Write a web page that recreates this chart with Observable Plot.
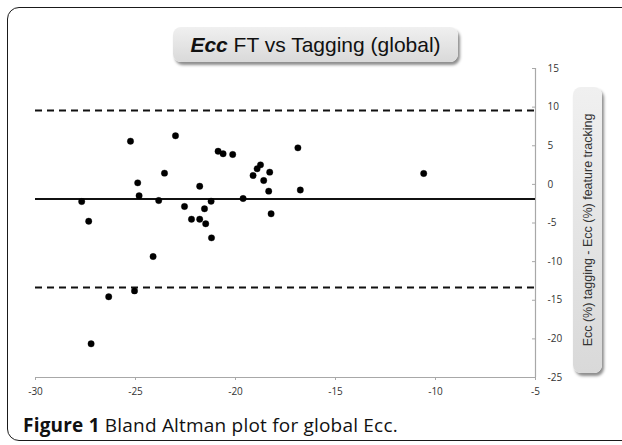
<!DOCTYPE html>
<html>
<head>
<meta charset="utf-8">
<script src="https://cdn.jsdelivr.net/npm/d3@7"></script>
<script src="https://cdn.jsdelivr.net/npm/@observablehq/plot@0.6"></script>
<style>
  html, body { margin: 0; padding: 0; background: #fff; }
  #wrap { position: relative; width: 622px; height: 445px; overflow: hidden; }
  #frame { position: absolute; left: 7px; top: 7px; width: 650px; height: 434px;
           border: 1.5px solid #1a1a1a; border-radius: 12px; box-sizing: border-box; }
  #chart { position: absolute; left: 0; top: 0; }
  .pill { position: absolute; border-radius: 8px;
          background: linear-gradient(#f0f0f0, #d9d9d9);
          box-shadow: 2px 3px 3px rgba(0,0,0,0.45); }
  #title { left: 173px; top: 27px; width: 285px; height: 35px;
           font-family: "Liberation Sans", Arial, sans-serif; font-size: 21px; color: #111;
           display: flex; align-items: center; justify-content: center; }
  #ylab { left: 573px; top: 87px; width: 29px; height: 286px; }
  #ylab span { position: absolute; left: 50%; top: 50%; white-space: nowrap;
               transform: translate(-50%, -50%) rotate(-90deg);
               font-family: "Liberation Sans", Arial, sans-serif; font-size: 12.5px; color: #333; }
  #caption { position: absolute; left: 23px; top: 412px; letter-spacing: 0.2px;
             font-family: "Open Sans", sans-serif; font-size: 19px; color: #111; white-space: nowrap; }
</style>
</head>
<body>
<div id="wrap">
  <div id="frame"></div>
  <div id="chart"></div>
  <div id="title" class="pill"><span><b><i>Ecc</i></b> FT vs Tagging (global)</span></div>
  <div id="ylab" class="pill"><span>Ecc (%) tagging - Ecc (%) feature tracking</span></div>
  <div id="caption"><b>Figure 1</b> Bland Altman plot for global Ecc.</div>
</div>
<script>
// Mean of the two methods (x) and difference (y)
const meanVals = [-25.25, -23.0, -20.87, -20.62, -20.14, -23.55, -24.89, -21.79, -24.82, -27.69,
                  -23.84, -21.22, -22.55, -21.55, -27.34, -22.2, -21.79, -21.49, -21.2, -24.12,
                  -25.05, -26.34, -27.22, -18.75, -18.92, -18.29, -19.12, -18.59, -18.34, -16.88,
                  -16.76, -19.62, -18.22, -10.59];
const diffVals = [5.59, 6.29, 4.29, 3.96, 3.87, 1.45, 0.2, -0.24, -1.48, -2.22,
                  -2.09, -2.18, -2.86, -3.16, -4.77, -4.51, -4.51, -5.1, -6.92, -9.34,
                  -13.79, -14.55, -20.64, 2.53, 2.02, 1.58, 1.15, 0.5, -0.88, 4.73,
                  -0.73, -1.83, -3.81, 1.41];
const meanDiff = [-1.9];
const limitsOfAgreement = [9.56, -13.35];
const xDomain = [-30, -5];
const yDomain = [-25, 15];
const xTicks = [-30, -25, -20, -15, -10, -5];
const yTicks = [15, 10, 5, 0, -5, -10, -15, -20, -25];

const points = meanVals.map((m, i) => ({x: m, y: diffVals[i]}));
const axisGray = "#a8a8a8";

const chart = Plot.plot({
  width: 622,
  height: 410,
  marginLeft: 35,
  marginRight: 87,
  marginTop: 68,
  marginBottom: 33,
  x: {domain: xDomain, label: null},
  y: {domain: yDomain, label: null},
  style: {fontFamily: "'Open Sans', sans-serif", fontSize: "10px", color: "#333", background: "transparent", overflow: "visible"},
  marks: [
    Plot.ruleY([yDomain[0]], {stroke: axisGray, strokeWidth: 1.2}),
    Plot.ruleX([xDomain[1]], {stroke: axisGray, strokeWidth: 1.2}),
    Plot.axisX({ticks: xTicks, tickSize: 3, tickPadding: 7, stroke: axisGray, tickFormat: d => String(d), fill: "#333", label: null}),
    Plot.axisY({anchor: "right", ticks: yTicks, tickSize: 0, tickPadding: 12, tickFormat: d => String(d), fill: "#333", label: null}),
    Plot.ruleY(yTicks, {x1: xDomain[1] - 0.15, x2: xDomain[1], stroke: axisGray}),
    Plot.ruleY(limitsOfAgreement, {stroke: "#111", strokeWidth: 2, strokeDasharray: "7,5"}),
    Plot.ruleY(meanDiff, {stroke: "#111", strokeWidth: 2}),
    Plot.dot(points, {x: "x", y: "y", r: 3.2, fill: "#000", stroke: "#000", strokeOpacity: 0.35, strokeWidth: 1})
  ]
});
document.getElementById("chart").append(chart);
</script>
</body>
</html>
